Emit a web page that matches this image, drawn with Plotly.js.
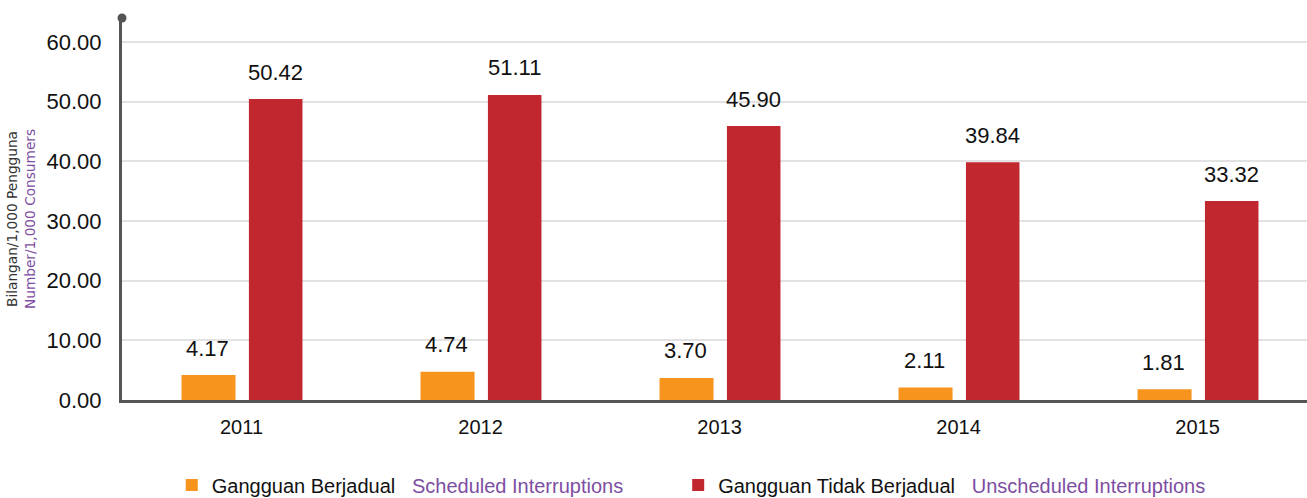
<!DOCTYPE html>
<html>
<head>
<meta charset="utf-8">
<script src="https://cdn.plot.ly/plotly-3.0.1.min.js"></script>
<style>html,body{margin:0;padding:0;background:#fff;}#chart{width:1307px;height:498px;}</style>
</head>
<body>
<div id="chart"></div>
<script>
var years = ["2011", "2012", "2013", "2014", "2015"];
var scheduled = [4.17, 4.74, 3.70, 2.11, 1.81];
var unscheduled = [50.42, 51.11, 45.90, 39.84, 33.32];
var yTicks = [0, 10, 20, 30, 40, 50, 60];
var seriesNamesMs = ["Gangguan Berjadual", "Gangguan Tidak Berjadual"];
var seriesNamesEn = ["Scheduled Interruptions", "Unscheduled Interruptions"];
var yTitleMs = "Bilangan/1,000 Pengguna";
var yTitleEn = "Number/1,000 Consumers";

var PURPLE = "#7d4ea2";
var ORANGE = "#f7941e";
var RED = "#c1272f";
var FONT = "Liberation Sans, Arial, sans-serif";
var SP = "\u00a0\u00a0\u00a0";
var PAD = "\u00a0\u00a0\u00a0\u00a0\u00a0\u00a0\u00a0\u00a0\u00a0";

var traces = [
  {
    type: "bar", x: years, y: scheduled,
    name: seriesNamesMs[0] + SP + "<span style='color:" + PURPLE + "'>" + seriesNamesEn[0] + PAD + "</span>",
    marker: {color: ORANGE, line: {width: 0}},
    width: 0.226, offset: -0.251, hoverinfo: "x+y"
  },
  {
    type: "bar", x: years, y: unscheduled,
    name: seriesNamesMs[1] + SP + "<span style='color:" + PURPLE + "'>" + seriesNamesEn[1] + "</span>",
    marker: {color: RED, line: {width: 0}},
    width: 0.224, offset: 0.031, hoverinfo: "x+y"
  }
];

var annotations = [];
years.forEach(function (yr, i) {
  annotations.push({x: i, y: scheduled[i], xref: "x", yref: "y", text: scheduled[i].toFixed(2),
    showarrow: false, xshift: -34, yshift: 27, yanchor: "middle", xanchor: "center",
    font: {family: FONT, size: 22, color: "#111"}});
  annotations.push({x: i, y: unscheduled[i], xref: "x", yref: "y", text: unscheduled[i].toFixed(2),
    showarrow: false, xshift: 34, yshift: 27, yanchor: "middle", xanchor: "center",
    font: {family: FONT, size: 22, color: "#111"}});
});
annotations.push({
  xref: "paper", yref: "paper", x: 0, y: (400 - 219) / 382, xshift: -101,
  xanchor: "center", yanchor: "middle", textangle: -90, showarrow: false,
  text: "<span style='color:#333'>" + yTitleMs + "</span><br><span style='color:" + PURPLE + "'>" + yTitleEn + "</span>",
  font: {family: "DejaVu Sans, sans-serif", size: 13.7, color: "#333"}
});

var layout = {
  width: 1307, height: 498,
  margin: {l: 122, r: 0, t: 18, b: 98, pad: 0},
  paper_bgcolor: "#fff", plot_bgcolor: "#fff",
  barmode: "group",
  showlegend: true,
  legend: {
    orientation: "h", xref: "paper", yref: "container", x: 0.042, y: 0.026,
    xanchor: "left", yanchor: "middle",
    font: {family: FONT, size: 20, color: "#111"}, bgcolor: "rgba(0,0,0,0)", traceorder: "normal"
  },
  xaxis: {
    type: "category", range: [-0.5, 4.458], showgrid: false, zeroline: false,
    showline: true, linecolor: "#555", linewidth: 2.5, ticks: "",
    ticklabelstandoff: 7,
    tickfont: {family: FONT, size: 20, color: "#111"}, fixedrange: true
  },
  yaxis: {
    range: [0, 64], tickvals: yTicks, tickformat: ".2f",
    showgrid: true, gridcolor: "#e2e2e2", gridwidth: 2, zeroline: false,
    showline: true, linecolor: "#555", linewidth: 3, ticks: "",
    ticklabelstandoff: 13,
    tickfont: {family: FONT, size: 22, color: "#111"}, fixedrange: true
  },
  shapes: [{
    type: "circle", xref: "paper", yref: "paper", xsizemode: "pixel", ysizemode: "pixel",
    xanchor: 0, yanchor: 1, x0: -4.5, x1: 4.5, y0: -4.5, y1: 4.5,
    fillcolor: "#555", line: {width: 0}
  }],
  annotations: annotations
};

Plotly.newPlot("chart", traces, layout, {displayModeBar: false, staticPlot: true});
</script>
</body>
</html>
